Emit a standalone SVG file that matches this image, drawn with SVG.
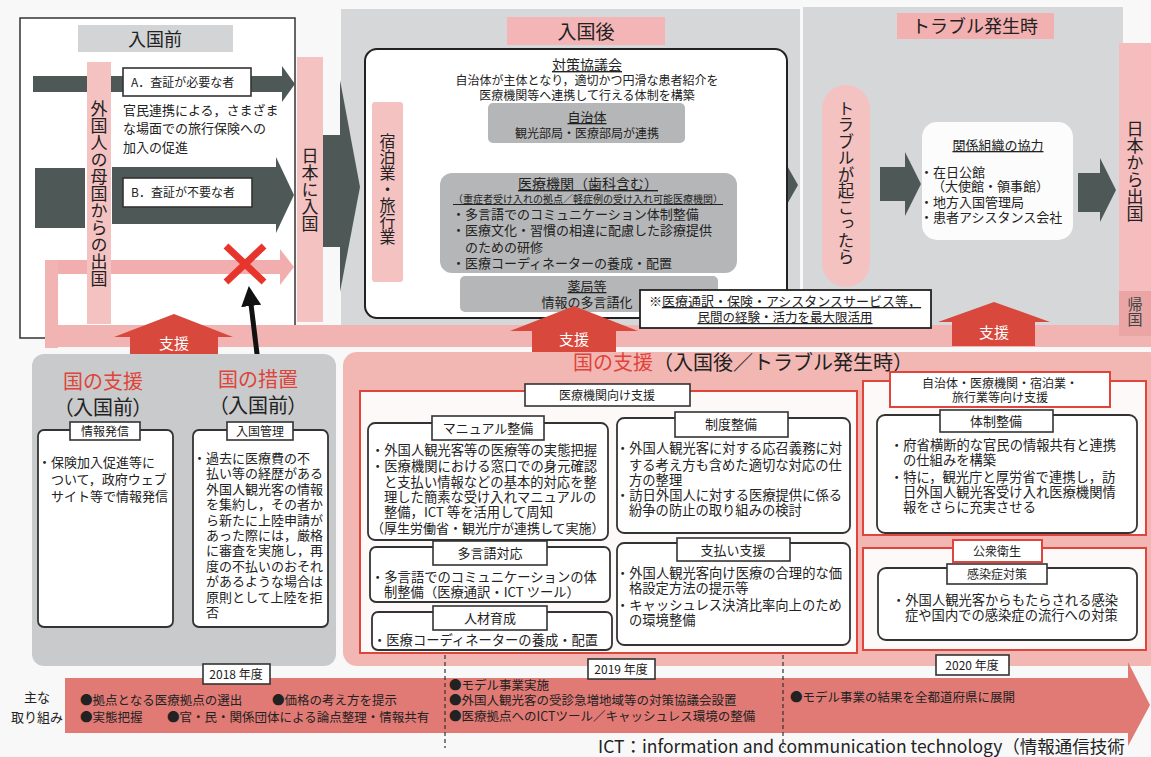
<svg xmlns="http://www.w3.org/2000/svg" width="1151" height="757" viewBox="0 0 1151 757">
<style>
text{font-family:"Noto Sans CJK JP","Noto Sans",sans-serif;fill:#222}
.s12{font-size:12px}
.s13{font-size:13px}
.b{font-size:13px}
.m{font-size:13.3px}
.v{writing-mode:vertical-rl}
.c{text-anchor:middle}
.u{text-decoration:underline}
.pal{font-feature-settings:"palt"}
.red{fill:#e0433a}
.dark{fill:#4e5957}
.pinkbar{fill:#f5c2c2}
.gbox{fill:#b5b6b7}
.lbl{fill:#fff;stroke:#333;stroke-width:1.6}
.rlbl{fill:#fff;stroke:#e0453d;stroke-width:2}
.box{fill:#fff;stroke:#333;stroke-width:1.8}
.sup{fill:#d9483c}
.redbox{fill:#fdf9f9;stroke:#e0453d;stroke-width:2}
.wt{fill:#fff}
</style>
<defs>
<marker id="ah" markerWidth="4" markerHeight="4" refX="2" refY="2" orient="auto" markerUnits="strokeWidth">
<path d="M0,0 L4,2 L0,4 z" fill="#111"/>
</marker>
</defs>
<rect x="0" y="0" width="1151" height="757" fill="#f8f8f8"/>

<!-- section backgrounds -->
<g id="bg-after">
<rect x="341" y="9" width="459" height="318" fill="#d6d7d8"/>
<rect x="803" y="7" width="320" height="320" fill="#d6d7d8"/>
</g>

<!-- 入国前 -->
<g id="before-entry">
<rect x="20" y="18" width="275" height="320" fill="#fff" stroke="#333" stroke-width="1.5"/>
<rect x="78" y="25" width="155" height="27" fill="#d3d4d5"/>
<text x="155" y="46" class="c" font-size="18">入国前</text>
</g>

<g id="connectors">
<!-- A arrow -->
<rect x="33" y="76" width="252" height="16" class="dark"/>
<polygon points="282,66 295,84 282,102" class="dark"/>
<!-- B arrow -->
<rect x="35" y="168" width="50" height="60" class="dark"/>
<rect x="112" y="167" width="166" height="57" class="dark"/>
<polygon points="276,157 294,195 276,233" class="dark"/>
<!-- pink return loop -->
<rect x="45" y="260" width="237" height="14" fill="#f2aeae"/>
<polygon points="280,249 294,267 280,285" fill="#f2aeae"/>
<rect x="45" y="260" width="13" height="88" fill="#f2b3b3"/>
<rect x="45" y="325" width="1106" height="22" fill="#f2b3b3"/>
<!-- big chevron to 入国後 -->
<rect x="323" y="135" width="18" height="112" class="dark"/>
<polygon points="340,80 360,187 340,292" class="dark"/>
<!-- 宿泊 -> 医療 -->
<rect x="403" y="163" width="24" height="57" class="dark"/>
<polygon points="426,140 439,192 426,244" class="dark"/>
<!-- 入国後 -> トラブル -->
<rect x="738" y="168" width="41" height="34" class="dark"/>
<polygon points="777,148 798,185 777,222" class="dark"/>
<!-- トラブル -> 協力 -->
<rect x="880" y="167" width="27" height="34" class="dark"/>
<polygon points="905,152 921,184 905,216" class="dark"/>
<!-- 協力 -> 出国 -->
<rect x="1078" y="173" width="24" height="39" class="dark"/>
<polygon points="1100,158 1116,190 1100,222" class="dark"/>
<!-- 協力 arrow -->
<polygon points="560,147 614,147 614,159 640,159 587,173 535,159 560,159" fill="#e0463a"/>
<text x="587" y="164" class="c s12 wt">協力</text>
<!-- red X -->
<path d="M226,246 L264,282 M264,246 L226,282" stroke="#e8352b" stroke-width="7" fill="none"/>
<!-- black arrow -->
<path d="M258,362 L250,296" stroke="#111" stroke-width="5" fill="none" marker-end="url(#ah)"/>
</g>

<!-- vertical bars -->
<g id="bar-departure">
<rect x="87" y="62" width="24" height="262" class="pinkbar"/>
<text x="99" y="100" class="v" font-size="17">外国人の母国からの出国</text>
</g>
<g id="label-a">
<rect x="123" y="68" width="128" height="28" class="lbl"/>
<text x="131" y="87" class="s12">A．査証が必要な者</text>
</g>
<g id="insurance-text">
<text x="123" y="115" font-size="13">官民連携による，さまざま</text>
<text x="123" y="133" font-size="13">な場面での旅行保険への</text>
<text x="123" y="152" font-size="13">加入の促進</text>
</g>
<g id="label-b">
<rect x="123" y="178" width="129" height="29" class="lbl"/>
<text x="131" y="197" class="s12">B．査証が不要な者</text>
</g>
<g id="bar-entry">
<rect x="297" y="57" width="26" height="265" class="pinkbar"/>
<text x="310" y="147" class="v" font-size="17">日本に入国</text>
</g>

<!-- 入国後 -->
<g id="after-entry-title">
<rect x="507" y="17" width="158" height="28" fill="#f3b5b5"/>
<text x="586" y="39" class="c" font-size="19">入国後</text>
</g>
<g id="council">
<rect x="365" y="49" width="422" height="269" rx="12" fill="#fff" stroke="#222" stroke-width="2"/>
<text x="587" y="70" class="c u" font-size="14">対策協議会</text>
<text x="587" y="85" class="c s12">自治体が主体となり，適切かつ円滑な患者紹介を</text>
<text x="587" y="100" class="c s12">医療機関等へ連携して行える体制を構築</text>
</g>
<g id="bar-lodging">
<rect x="372" y="102" width="31" height="180" rx="3" class="pinkbar"/>
<text x="387.5" y="133" class="v" font-size="16">宿泊業・旅行業</text>
</g>
<g id="local-gov">
<rect x="488" y="103" width="197" height="40" rx="5" class="gbox"/>
<text x="587" y="122" class="c u s13">自治体</text>
<text x="587" y="138" class="c s12">観光部局・医療部局が連携</text>
</g>
<g id="medical">
<rect x="440" y="173" width="297" height="100" rx="12" class="gbox"/>
<text x="588" y="189" class="c u" font-size="14">医療機関（歯科含む）</text>
<text x="588" y="203" class="c u" font-size="10">（重症者受け入れの拠点／軽症例の受け入れ可能医療機関）</text>
<text x="452" y="219" class="s13">・多言語でのコミュニケーション体制整備</text>
<text x="452" y="235" class="s13">・医療文化・習慣の相違に配慮した診療提供</text>
<text x="465" y="252" class="s13">のための研修</text>
<text x="452" y="268" class="s13">・医療コーディネーターの養成・配置</text>
</g>
<g id="pharmacy">
<rect x="460" y="276" width="258" height="36" rx="5" class="gbox"/>
<text x="587" y="291" class="c u s13">薬局等</text>
<text x="587" y="307" class="c s13">情報の多言語化</text>
</g>
<g id="note">
<rect x="640" y="290" width="291" height="38" fill="#fff" stroke="#222" stroke-width="1.8"/>
<text x="785" y="306" class="c s13">※<tspan class="u">医療通訳・保険・アシスタンスサービス等，</tspan></text>
<text x="785" y="322" class="c u" font-size="12.5">民間の経験・活力を最大限活用</text>
</g>

<!-- トラブル発生時 -->
<g id="trouble-title">
<rect x="897" y="13" width="157" height="26" fill="#f3b0b0"/>
<text x="975" y="33" class="c" font-size="18">トラブル発生時</text>
</g>
<g id="trouble">
<rect x="822" y="85" width="48" height="202" rx="24" class="pinkbar"/>
<text x="846" y="100" class="v" font-size="16.5">トラブルが起こったら</text>
</g>
<g id="cooperation">
<rect x="922" y="122" width="151" height="118" rx="15" fill="#fcfcfc"/>
<text x="998" y="150" class="c u s13">関係組織の協力</text>
<text x="920" y="177" class="s13">・在日公館</text>
<text x="932" y="191" class="s13">（大使館・領事館）</text>
<text x="920" y="207" class="s13">・地方入国管理局</text>
<text x="920" y="222" class="s13">・患者アシスタンス会社</text>
</g>
<g id="bar-exit">
<rect x="1119" y="43" width="32" height="248" fill="#f5bdbd"/>
<text x="1135" y="120" class="v" font-size="17">日本から出国</text>
<rect x="1119" y="291" width="32" height="45" fill="#eba5a5"/>
<text x="1135" y="297" class="v" font-size="15" style="fill:#3a4745">帰国</text>
</g>

<!-- support arrows -->
<g id="support-arrows">
<polygon points="174,314 233,337 218,337 218,356 130,356 130,337 114,337" class="sup"/>
<text x="174" y="349" class="c wt" font-size="15">支援</text>
<polygon points="574,306 638,331 616,331 616,354 532,354 532,331 510,331" class="sup"/>
<text x="574" y="345" class="c wt" font-size="15">支援</text>
<polygon points="994,302 1050,322 1035,322 1035,346 952,346 952,322 938,322" class="sup"/>
<text x="994" y="338" class="c wt" font-size="15">支援</text>
</g>

<!-- 国の支援/措置 (入国前) -->
<g id="support-before">
<rect x="32" y="354" width="304" height="312" rx="12" fill="#c9cacb"/>
<text x="103" y="389" class="c red" font-size="20">国の支援</text>
<text x="103" y="415" class="c pal" font-size="20">（入国前）</text>
<text x="258" y="387" class="c red" font-size="20">国の措置</text>
<text x="258" y="413" class="c pal" font-size="20">（入国前）</text>
</g>
<g id="info">
<rect x="38" y="430" width="135" height="197" rx="6" class="box"/>
<rect x="70" y="422" width="70" height="18" class="lbl"/>
<text x="105" y="436" class="c s12">情報発信</text>
<text x="38" y="467" class="b">・保険加入促進等に</text>
<text x="51" y="484" class="b">ついて，政府ウェブ</text>
<text x="51" y="501" class="b">サイト等で情報発信</text>
</g>
<g id="immigration">
<rect x="193" y="430" width="135" height="197" rx="6" class="box"/>
<rect x="227" y="422" width="66" height="18" class="lbl"/>
<text x="260" y="436" class="c s12">入国管理</text>
<text x="193" y="463" class="b">・過去に医療費の不</text>
<text x="206" y="478" class="b">払い等の経歴がある</text>
<text x="206" y="494" class="b">外国人観光客の情報</text>
<text x="206" y="509" class="b">を集約し，その者か</text>
<text x="206" y="525" class="b">ら新たに上陸申請が</text>
<text x="206" y="540" class="b">あった際には，厳格</text>
<text x="206" y="555" class="b">に審査を実施し，再</text>
<text x="206" y="571" class="b">度の不払いのおそれ</text>
<text x="206" y="586" class="b">があるような場合は</text>
<text x="206" y="602" class="b">原則として上陸を拒</text>
<text x="206" y="617" class="b">否</text>
</g>

<!-- 国の支援 (入国後/トラブル発生時) -->
<g id="support-after">
<rect x="343" y="352" width="820" height="314" rx="14" fill="#f2b7b3"/>
<text x="573" y="370" font-size="20"><tspan class="red">国の支援</tspan>（入国後／トラブル発生時）</text>
</g>
<g id="medical-support">
<rect x="360" y="391" width="497" height="262" class="redbox"/>
<rect x="525" y="384" width="165" height="22" class="lbl"/>
<text x="607" y="400" class="c s12">医療機関向け支援</text>
</g>
<g id="manual">
<rect x="368" y="423" width="240" height="117" rx="7" class="box"/>
<rect x="432" y="416" width="112" height="24" class="lbl"/>
<text x="488" y="433" class="c s13">マニュアル整備</text>
<text x="371" y="455" class="m">・外国人観光客等の医療等の実態把握</text>
<text x="371" y="471" class="m">・医療機関における窓口での身元確認</text>
<text x="384" y="487" class="m">と支払い情報などの基本的対応を整</text>
<text x="384" y="502" class="m">理した簡素な受け入れマニュアルの</text>
<text x="384" y="517" class="m">整備，ICT 等を活用して周知</text>
<text x="371" y="533" class="s13">（厚生労働省・観光庁が連携して実施）</text>
</g>
<g id="multilingual">
<rect x="370" y="547" width="240" height="55" rx="6" class="box"/>
<rect x="433" y="541" width="114" height="24" class="lbl"/>
<text x="490" y="558" class="c s13">多言語対応</text>
<text x="371" y="582" class="m">・多言語でのコミュニケーションの体</text>
<text x="384" y="597" class="m">制整備（医療通訳・ICT ツール）</text>
</g>
<g id="hr">
<rect x="372" y="612" width="240" height="38" rx="6" class="box"/>
<rect x="433" y="606" width="114" height="24" class="lbl"/>
<text x="490" y="623" class="c s13">人材育成</text>
<text x="373" y="645" class="m">・医療コーディネーターの養成・配置</text>
</g>
<g id="system">
<rect x="617" y="418" width="233" height="115" rx="7" class="box"/>
<rect x="675" y="412" width="113" height="25" class="lbl"/>
<text x="731" y="429" class="c s13">制度整備</text>
<text x="616" y="453" class="m">・外国人観光客に対する応召義務に対</text>
<text x="629" y="470" class="m">する考え方も含めた適切な対応の仕</text>
<text x="629" y="485" class="m">方の整理</text>
<text x="616" y="500" class="m">・訪日外国人に対する医療提供に係る</text>
<text x="629" y="515" class="m">紛争の防止の取り組みの検討</text>
</g>
<g id="payment">
<rect x="617" y="543" width="233" height="102" rx="7" class="box"/>
<rect x="677" y="538" width="113" height="23" class="lbl"/>
<text x="733" y="555" class="c s13">支払い支援</text>
<text x="616" y="578" class="m">・外国人観光客向け医療の合理的な価</text>
<text x="629" y="593" class="m">格設定方法の提示等</text>
<text x="616" y="610" class="m">・キャッシュレス決済比率向上のため</text>
<text x="629" y="625" class="m">の環境整備</text>
</g>
<g id="local-support">
<rect x="863" y="381" width="283" height="154" class="redbox"/>
<rect x="890" y="372" width="220" height="35" class="rlbl"/>
<text x="1000" y="388" class="c s12">自治体・医療機関・宿泊業・</text>
<text x="1000" y="402" class="c s12">旅行業等向け支援</text>
</g>
<g id="framework">
<rect x="877" y="415" width="260" height="118" rx="8" class="box"/>
<rect x="940" y="410" width="113" height="22" class="lbl"/>
<text x="996" y="426" class="c s13">体制整備</text>
<text x="890" y="450" class="m">・府省横断的な官民の情報共有と連携</text>
<text x="903" y="465" class="m">の仕組みを構築</text>
<text x="890" y="482" class="m">・特に，観光庁と厚労省で連携し，訪</text>
<text x="903" y="497" class="m">日外国人観光客受け入れ医療機関情</text>
<text x="903" y="512" class="m">報をさらに充実させる</text>
</g>
<g id="public-health">
<rect x="863" y="548" width="283" height="102" class="redbox"/>
<rect x="953" y="540" width="89" height="22" class="rlbl"/>
<text x="997" y="556" class="c s12">公衆衛生</text>
</g>
<g id="infection">
<rect x="878" y="568" width="259" height="72" rx="8" class="box"/>
<rect x="947" y="564" width="100" height="20" class="lbl"/>
<text x="997" y="579" class="c s12">感染症対策</text>
<text x="892" y="605" class="m">・外国人観光客からもたらされる感染</text>
<text x="905" y="620" class="m">症や国内での感染症の流行への対策</text>
</g>

<!-- timeline -->
<g id="timeline">
<polygon points="65,678 1128,678 1128,662 1150,705 1128,746 1128,733 65,733" fill="#e17a75"/>
<path d="M445,655 V748 M783,655 V748" stroke="#333" stroke-width="1.2" stroke-dasharray="4 3" fill="none"/>
<text x="37" y="702" class="c s13">主な</text>
<text x="37" y="722" class="c s13">取り組み</text>
<rect x="203" y="664" width="67" height="20" class="lbl"/>
<text x="236" y="679" class="c s12">2018 年度</text>
<rect x="588" y="659" width="67" height="20" class="lbl"/>
<text x="621" y="674" class="c s12">2019 年度</text>
<rect x="936" y="655" width="73" height="20" class="lbl"/>
<text x="972" y="670" class="c s12">2020 年度</text>
<text x="80" y="705" font-size="12.5">●拠点となる医療拠点の選出</text>
<text x="272" y="705" font-size="12.5">●価格の考え方を提示</text>
<text x="80" y="722" font-size="12.5">●実態把握</text>
<text x="167" y="722" font-size="12.5">●官・民・関係団体による論点整理・情報共有</text>
<text x="449" y="690" font-size="12.5">●モデル事業実施</text>
<text x="449" y="705" font-size="12.5">●外国人観光客の受診急増地域等の対策協議会設置</text>
<text x="449" y="721" font-size="12.5">●医療拠点へのICTツール／キャッシュレス環境の整備</text>
<text x="790" y="702" font-size="12.5">●モデル事業の結果を全都道府県に展開</text>
</g>
<g id="footnote">
<text x="598" y="753" font-size="17.5">ICT：information and communication technology（情報通信技術</text>
</g>
</svg>
